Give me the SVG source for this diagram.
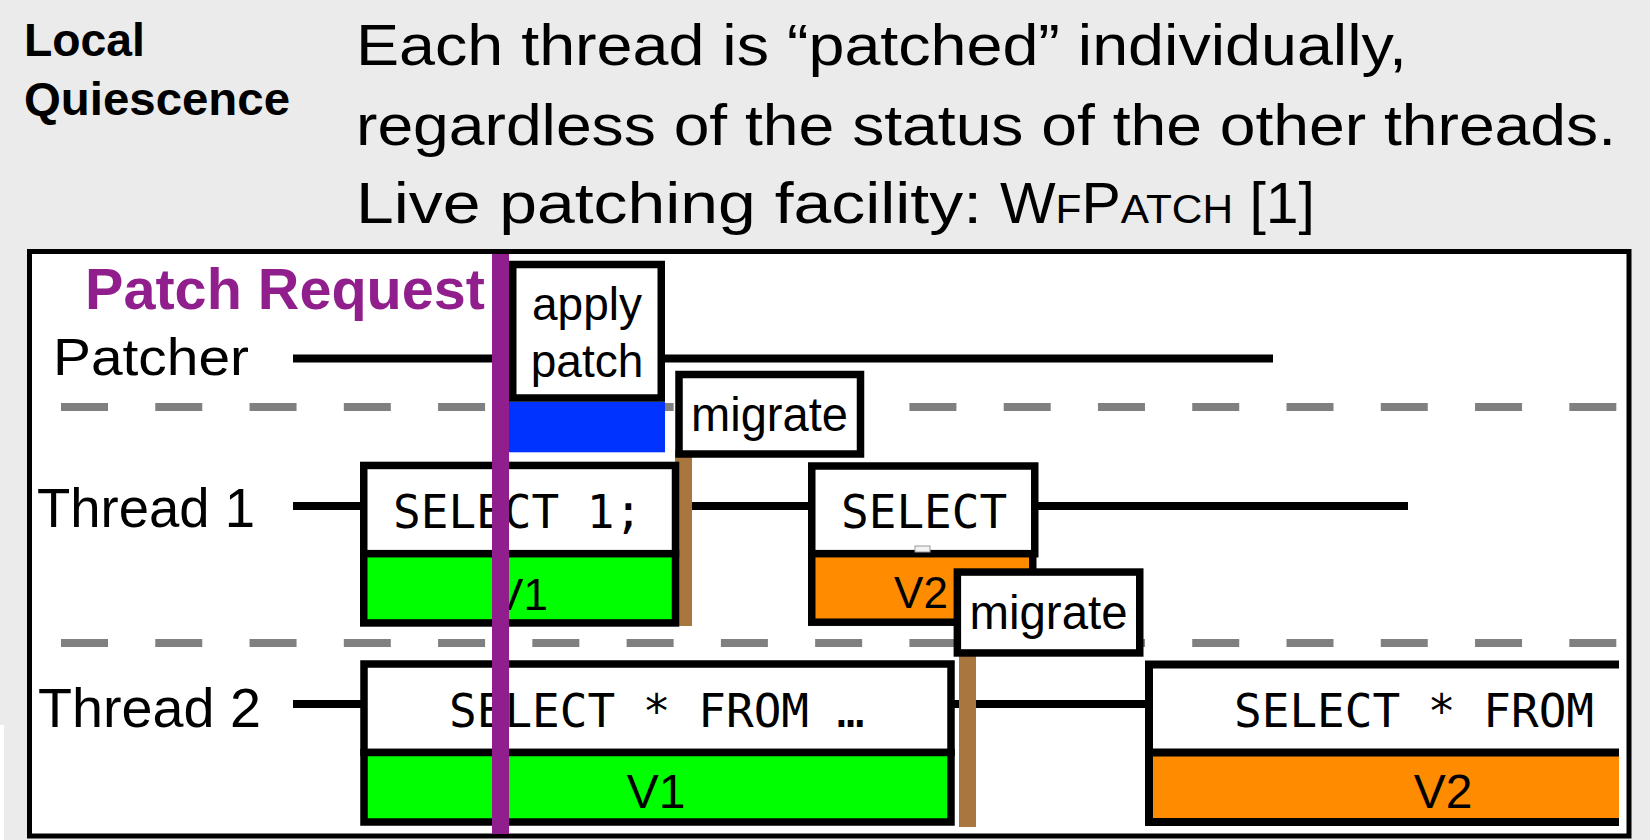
<svg xmlns="http://www.w3.org/2000/svg" width="1650" height="840" viewBox="0 0 1650 840">
<defs>
<style>
.sans{font-family:"Liberation Sans",Arial,Helvetica,sans-serif;fill:#000}
.bold{font-weight:bold}
.mono{font-family:"DejaVu Sans Mono","Liberation Mono",monospace;font-size:46px;fill:#000}
.box{stroke:#000;stroke-width:7.5;fill:#fff}
.v1{fill:#00ff00;stroke:#000;stroke-width:7.5}
.v2{fill:#ff8c00;stroke:#000;stroke-width:7.5}
.tl{stroke:#000;stroke-width:8;fill:none}
.sep{stroke:#808080;stroke-width:8;stroke-dasharray:47 47.27;fill:none}
.mig{fill:#a8763e}
.mid{text-anchor:middle}
</style>
</defs>
<rect x="0" y="0" width="1650" height="840" fill="#ebebeb"/>
<rect x="0" y="725" width="4" height="115" fill="#fff"/>

<g id="header">
<text class="sans bold" x="24" y="56" font-size="46" textLength="121" lengthAdjust="spacingAndGlyphs">Local</text>
<text class="sans bold" x="24" y="115" font-size="46" textLength="266" lengthAdjust="spacingAndGlyphs">Quiescence</text>
<text class="sans" x="356" y="65" font-size="57" textLength="1051" lengthAdjust="spacingAndGlyphs">Each thread is “patched” individually,</text>
<text class="sans" x="356" y="145" font-size="57" textLength="1260" lengthAdjust="spacingAndGlyphs">regardless of the status of the other threads.</text>
<text class="sans" x="356" y="223" font-size="57" textLength="626" lengthAdjust="spacingAndGlyphs">Live patching facility:</text>
<text class="sans" x="1000" y="223" font-size="57" textLength="315" lengthAdjust="spacingAndGlyphs">W<tspan font-size="41">F</tspan>P<tspan font-size="41">ATCH</tspan> [1]</text>
</g>

<rect id="frame" x="29.5" y="251.5" width="1599.5" height="584.5" fill="#fff" stroke="#000" stroke-width="5"/>

<g id="connectors">
<line class="sep" x1="61" y1="407" x2="1617" y2="407"/>
<line class="sep" x1="61" y1="643" x2="1617" y2="643"/>
<line class="tl" x1="293" y1="358.5" x2="1273" y2="358.5"/>
<line class="tl" x1="293" y1="506" x2="1408" y2="506"/>
<line class="tl" x1="293" y1="704" x2="1150" y2="704"/>
<rect class="mig" x="675" y="450" width="17" height="176"/>
<rect class="mig" x="959" y="650" width="17" height="177"/>
</g>

<g id="lane-labels">
<text class="sans" x="53" y="375" font-size="52" textLength="196" lengthAdjust="spacingAndGlyphs">Patcher</text>
<text class="sans" x="37" y="527" font-size="55" textLength="218" lengthAdjust="spacingAndGlyphs">Thread 1</text>
<text class="sans" x="38" y="727" font-size="55" textLength="223" lengthAdjust="spacingAndGlyphs">Thread 2</text>
</g>

<g id="t1-v1">
<rect class="box" x="363.75" y="465.45" width="311.75" height="88.25"/>
<rect class="v1" x="363.75" y="553.7" width="311.75" height="69.25"/>
<text class="mono" x="393" y="528">SELECT 1;</text>
<text class="sans mid" x="521" y="610" font-size="44">V1</text>
</g>

<g id="t1-v2">
<rect class="box" x="811.75" y="466" width="223" height="87.7"/>
<rect class="v2" x="811.75" y="553.7" width="221" height="68.5"/>
<text class="mono" x="841" y="528">SELECT</text>
<text class="sans mid" x="921" y="608" font-size="44">V2</text>
<rect x="915" y="546" width="15" height="6" fill="#f2f2f2" stroke="#999" stroke-width="1"/>
</g>

<g id="t2-v1">
<rect class="box" x="364" y="664" width="587" height="88.5" stroke-width="8"/>
<rect class="v1" x="364" y="752.5" width="587" height="69.5" stroke-width="8"/>
<text class="mono" x="449" y="727">SELECT * FROM …</text>
<text class="sans mid" x="656" y="808" font-size="48">V1</text>
</g>

<g id="t2-v2">
<rect x="1149" y="664.5" width="470" height="88" fill="#fff"/>
<rect x="1149" y="752.5" width="470" height="69.5" fill="#ff8c00"/>
<path d="M1619,664.5 H1149 V822 H1619 M1149,752.5 H1619" fill="none" stroke="#000" stroke-width="8"/>
<text class="mono" x="1234" y="727">SELECT * FROM</text>
<text class="sans mid" x="1443" y="808" font-size="48">V2</text>
</g>

<g id="apply-patch">
<rect x="507" y="401.7" width="158" height="50.6" fill="#0033ff"/>
<rect class="box" x="512.75" y="264.5" width="148.5" height="133.5"/>
<text class="sans mid" x="587" y="320" font-size="46">apply</text>
<text class="sans mid" x="587" y="377" font-size="46">patch</text>
</g>

<g id="migrate-1">
<rect class="box" x="679" y="374.5" width="181.5" height="79.5"/>
<text class="sans mid" x="769.5" y="431" font-size="48" textLength="157" lengthAdjust="spacingAndGlyphs">migrate</text>
</g>

<g id="migrate-2">
<rect class="box" x="957.35" y="572.05" width="182.4" height="80.9"/>
<text class="sans mid" x="1048.5" y="629" font-size="48" textLength="158" lengthAdjust="spacingAndGlyphs">migrate</text>
</g>

<g id="patch-request">
<rect x="492" y="254" width="17" height="580" fill="#901e8c"/>
<text class="sans bold" x="85" y="309" font-size="57" style="fill:#901e8c" textLength="400" lengthAdjust="spacingAndGlyphs">Patch Request</text>
</g>
</svg>
